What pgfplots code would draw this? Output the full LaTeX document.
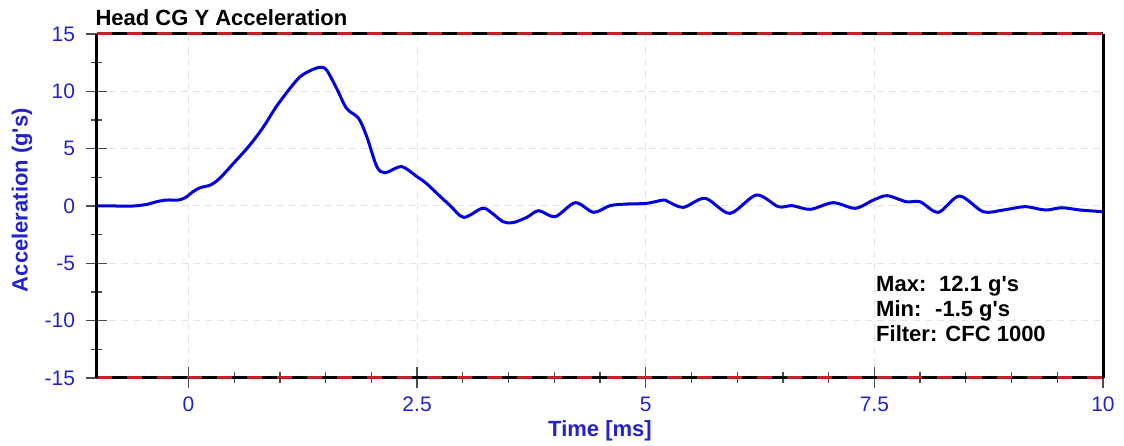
\documentclass[border=0pt]{standalone}
\usepackage{fontspec}
\setmainfont{Liberation Sans}
\usepackage{pgfplots}
\pgfplotsset{compat=1.18}
\definecolor{tickblue}{RGB}{35,35,205}
\definecolor{curveblue}{RGB}{0,0,225}
\definecolor{dashred}{RGB}{200,30,40}
\begin{document}
\begin{tikzpicture}
\useasboundingbox (-97pt,-68pt) rectangle (1027pt,378pt);
\begin{axis}[
 scale only axis, width=1006pt, height=344pt,
 at={(0,0)}, anchor=south west,
 xmin=-1, xmax=10, ymin=-15, ymax=15,
 xtick={0,2.5,5,7.5,10}, xticklabels={0,2.5,5,7.5,10},
 ytick={-15,-10,-5,0,5,10,15}, yticklabels={-15,-10,-5,0,5,10,15},
 minor x tick num=4, minor y tick num=1,
 xtick pos=bottom, ytick pos=left,
 tick align=center, major tick length=21pt, minor tick length=11pt,
 tick style={draw=black!70, line width=1.2pt},
 axis line style={draw=none},
 grid=major, major grid style={draw=gray!22, line width=1pt, dash pattern=on 7pt off 5pt},
 ticklabel style={font=\fontsize{21}{21}\selectfont, text=tickblue},
 xticklabel style={yshift=-5pt},
 yticklabel style={xshift=-8pt},
 xlabel={Time [ms]}, ylabel={Acceleration (g\textquotesingle s)},
 label style={font=\bfseries\fontsize{22}{22}\selectfont, text=tickblue},
 xlabel style={at={(axis description cs:0.5,0)}, anchor=base, yshift=-59pt},
 ylabel style={at={(axis description cs:-0.0746,0.517)}, anchor=center},
 title={Head CG Y Acceleration},
 title style={at={(axis description cs:0,1)}, anchor=base west, yshift=2pt, xshift=-5pt, font=\bfseries\fontsize{22}{22}\selectfont},
 clip=false,
]
\addplot[curveblue, line width=3pt, smooth, tension=0.5] table {
-1.00 0.00
-0.80 0.00
-0.60 0.00
-0.45 0.15
-0.35 0.37
-0.24 0.52
-0.11 0.52
-0.03 0.75
0.05 1.25
0.13 1.6
0.24 1.83
0.34 2.4
0.49 3.7
0.67 5.3
0.82 6.9
0.96 8.66
1.11 10.26
1.22 11.27
1.33 11.8
1.44 12.1
1.51 11.86
1.62 10.26
1.73 8.5
1.86 7.65
1.95 6.04
2.06 3.43
2.15 2.9
2.33 3.43
2.50 2.55
2.60 1.98
2.75 0.85
2.86 0.05
3.01 -0.99
3.21 -0.2
3.30 -0.5
3.44 -1.37
3.55 -1.45
3.70 -0.99
3.83 -0.41
4.01 -0.93
4.23 0.29
4.43 -0.55
4.61 0.03
4.79 0.17
5.01 0.23
5.19 0.52
5.24 0.4
5.41 -0.12
5.65 0.67
5.92 -0.64
6.21 0.96
6.45 -0.06
6.60 0.03
6.80 -0.29
7.05 0.29
7.29 -0.2
7.49 0.52
7.64 0.9
7.85 0.37
8.00 0.37
8.20 -0.55
8.43 0.87
8.69 -0.5
8.91 -0.35
9.15 -0.06
9.37 -0.35
9.55 -0.15
9.75 -0.35
10.0 -0.5
};
\draw[black, line width=3pt] (rel axis cs:0,0) -- (rel axis cs:1,0);
\draw[dashred, line width=3pt, dash pattern=on 15pt off 15pt] (rel axis cs:0,0) -- (rel axis cs:1,0);
\draw[black, line width=3pt] (rel axis cs:0,1) -- (rel axis cs:1,1);
\draw[dashred, line width=3pt, dash pattern=on 15pt off 15pt] (rel axis cs:0,1) -- (rel axis cs:1,1);
\draw[black, line width=3pt] (rel axis cs:0,0) -- (rel axis cs:0,1);
\draw[black, line width=3pt] (rel axis cs:1,0) -- (rel axis cs:1,1);
\node[anchor=base west, inner sep=0pt, font=\bfseries\fontsize{22}{22}\selectfont] at (axis cs:7.518,-7.50) {\makebox[63pt][l]{Max:}12.1 g\textquotesingle s};
\node[anchor=base west, inner sep=0pt, font=\bfseries\fontsize{22}{22}\selectfont] at (axis cs:7.518,-9.68) {\makebox[59pt][l]{Min:}-1.5 g\textquotesingle s};
\node[anchor=base west, inner sep=0pt, font=\bfseries\fontsize{22}{22}\selectfont] at (axis cs:7.518,-11.86) {Filter: CFC 1000};
\end{axis}
\end{tikzpicture}
\end{document}
